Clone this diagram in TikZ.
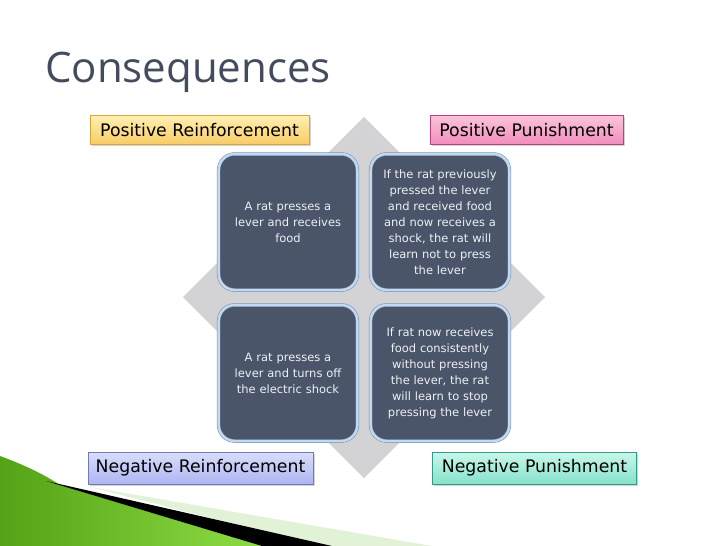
\documentclass[tikz,border=0pt]{standalone}
\usepackage{fontspec}
\setmainfont{DejaVu Sans}
\newfontfamily\titlefont{Open Sans}
\usetikzlibrary{shadows}

\definecolor{titlegray}{HTML}{434C5C}
\definecolor{diamondgray}{HTML}{D3D3D6}
\definecolor{slate}{HTML}{4A5569}
\definecolor{rimblue}{HTML}{BFDAF2}
\definecolor{rimline}{HTML}{7C8BA3}
\definecolor{celltext}{HTML}{EEF0F4}
\definecolor{yellowtop}{HTML}{FFEFB0}
\definecolor{yellowbot}{HTML}{F8CC66}
\definecolor{yellowrim}{HTML}{D9A53A}
\definecolor{pinktop}{HTML}{FAC4DC}
\definecolor{pinkbot}{HTML}{F28CBC}
\definecolor{pinkrim}{HTML}{B8427E}
\definecolor{lavtop}{HTML}{DADDFB}
\definecolor{lavbot}{HTML}{AEB5F1}
\definecolor{lavrim}{HTML}{6F7BB8}
\definecolor{minttop}{HTML}{C8F6EA}
\definecolor{mintbot}{HTML}{86E2CB}
\definecolor{mintrim}{HTML}{2E9C88}
\definecolor{leafdark}{HTML}{54A216}
\definecolor{leaflight}{HTML}{8EDC44}
\definecolor{leafpale}{HTML}{E2F2D6}

\begin{document}
\begin{tikzpicture}[
        x=1pt, y=-1pt,
        cell/.style={rounded corners=16pt, fill=slate, draw=rimline, line width=0.5pt,
            double=rimblue, double distance=2.5pt, minimum width=136pt, minimum height=136pt,
            text width=132pt, align=center, text=celltext, font=\fontsize{11.5}{16}\selectfont},
        tag/.style={minimum height=29pt, inner xsep=4pt, line width=0.8pt,
            font=\fontsize{17.3}{20}\selectfont, text=black,
            drop shadow={opacity=0.35, shadow xshift=1.5pt, shadow yshift=-1.5pt}}
    ]
        \useasboundingbox (0,0) rectangle (728,546);

        % title
        \node[anchor=base west, text=titlegray, font=\titlefont\fontsize{42}{48}\selectfont, inner sep=0pt]
            (title) at (45,82) {Consequences};

        % corner decoration
        \fill[leafpale] (90,487) -- (432,546) -- (320,546) -- cycle;
        \shade[left color=leafdark, right color=leaflight]
            (0,456) .. controls (30,467) and (48,477) .. (60,485) -- (262,546) -- (0,546) -- cycle;
        \fill[black] (46,481) -- (332,546) -- (262,546) -- cycle;

        % gray diamond behind the cells
        \fill[diamondgray] (364,117) -- (545,297) -- (364,478) -- (183,297) -- cycle;

        % the four cells
        \node[cell] (tl) at (288,222) {A rat presses a\\lever and receives\\food};
        \node[cell] (tr) at (440,222) {If the rat previously\\pressed the lever\\and received food\\and now receives a\\shock, the rat will\\learn not to press\\the lever};
        \node[cell] (bl) at (288,373) {A rat presses a\\lever and turns off\\the electric shock};
        \node[cell] (br) at (440,373) {If rat now receives\\food consistently\\without pressing\\the lever, the rat\\will learn to stop\\pressing the lever};

        % corner labels
        \node[tag, top color=yellowtop, bottom color=yellowbot, draw=yellowrim, minimum width=219pt]
            (posrein) at (199.5,130) {Positive Reinforcement};
        \node[tag, top color=pinktop, bottom color=pinkbot, draw=pinkrim, minimum width=193pt]
            (pospun) at (526.5,130) {Positive Punishment};
        \node[tag, top color=lavtop, bottom color=lavbot, draw=lavrim, minimum width=225pt, minimum height=32pt]
            (negrein) at (200.5,468) {Negative Reinforcement};
        \node[tag, top color=minttop, bottom color=mintbot, draw=mintrim, minimum width=204pt, minimum height=32pt]
            (negpun) at (534.5,468) {Negative Punishment};
    \end{tikzpicture}
\end{document}
